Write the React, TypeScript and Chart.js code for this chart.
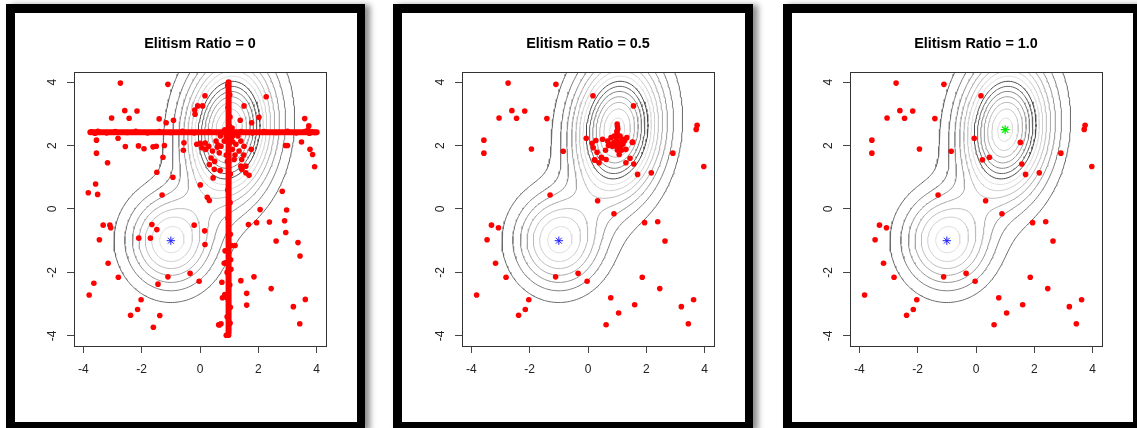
import { useEffect, useRef } from "react";
import { Chart, registerables } from "chart.js";

Chart.register(...registerables);

const FONT = "'Liberation Sans', Arial, Helvetica, sans-serif";

// ---------- data ----------
const PANEL_TITLES = ["Elitism Ratio = 0", "Elitism Ratio = 0.5", "Elitism Ratio = 1.0"];
const X_TICKS = [-4, -2, 0, 2, 4];
const Y_TICKS = [-4, -2, 0, 2, 4];
const AXIS_MIN = -4.32;
const AXIS_MAX = 4.32;

// two-peak landscape drawn as contours
const PEAK_X = [-1, 1];
const PEAK_Y = [-1, 2.5];
const PEAK_HEIGHT = [0.075, 0.145];
const PEAK_SD_X = [0.97, 0.97];
const PEAK_SD_Y = [0.97, 1.4];
const PEAK_RHO = [0, 0.1];
const CONTOUR_LEVELS = [0.01, 0.02, 0.03, 0.04, 0.05, 0.06, 0.07, 0.08, 0.09, 0.1, 0.11, 0.12, 0.13, 0.14];
const CONTOUR_GREYS = [
  "#6a6a6a", "#7e7e7e", "#939393", "#a8a8a8", "#bcbcbc", "#cecece", "#dedede",
  "#4a4a4a", "#646464", "#828282", "#9c9c9c", "#b5b5b5", "#cacaca", "#dcdcdc",
];
const GRID_N = 110;

const BLUE_STAR: [number, number][] = [[-1, -1]];
const GREEN_STAR: [number, number][] = [[1, 2.5]];

// panel 1 (ratio 0)
const P1_SCATTER: [number, number][] = [
  [-2.73, 3.97], [-1.1, 3.93], [0.17, 3.57], [2.27, 3.54], [-2.58, 3.1], [-2.16, 3.09], [-3.03, 2.87], [-2.43, 2.86],
  [-1.4, 2.84], [-1.16, 2.72], [-0.91, 2.8], [-0.17, 2.99], [0.09, 3.25], [-0.08, 3.25], [-0.18, 3.12], [1.51, 3.25],
  [1.77, 2.72], [2.02, 2.89], [1.38, 2.8], [3.59, 2.85], [3.73, 2.62], [-3.55, 2.17], [-2.81, 2.23], [-2.56, 1.97],
  [-2.11, 1.99], [-1.92, 1.9], [-1.61, 1.96], [-1.5, 1.98], [-1.22, 2.0], [-0.55, 2.09], [-0.57, 1.85], [-3.55, 1.76],
  [-3.17, 1.46], [-1.27, 1.63], [-1.48, 1.16], [-0.93, 1.0], [0.01, 0.76], [-3.58, 0.79], [-3.83, 0.51], [-3.51, 0.46],
  [-1.3, 0.44], [0.25, 0.37], [0.32, 0.27], [2.93, 2.0], [3.0, 2.0], [3.48, 2.11], [3.77, 1.88], [3.86, 1.72],
  [3.93, 1.33], [2.82, 0.56], [2.97, -0.03], [2.06, -0.02], [1.66, -0.49], [1.94, -0.43], [2.38, -0.41], [2.9, -0.37],
  [2.94, -0.74], [2.61, -1.01], [3.36, -1.06], [3.43, -1.48], [1.2, -1.15], [-3.32, -0.51], [-3.09, -0.51], [-3.06, -0.59],
  [-3.45, -0.97], [-2.1, -0.92], [-1.7, -0.92], [-1.65, -0.49], [-1.48, -0.65], [-0.2, -0.51], [0.16, -0.69], [0.17, -1.12],
  [-3.15, -1.71], [-2.8, -2.15], [-1.1, -2.14], [-0.34, -2.03], [-0.03, -2.28], [0.75, -2.31], [1.4, -2.26], [1.85, -2.14],
  [2.44, -2.51], [1.6, -2.66], [1.6, -3.03], [-1.44, -2.37], [-3.64, -2.34], [-3.8, -2.71], [-2.02, -2.86], [0.77, -2.8],
  [3.61, -2.85], [-2.14, -3.17], [3.2, -3.08], [-2.38, -3.35], [-1.38, -3.36], [-1.6, -3.73], [0.64, -3.65], [3.42, -3.62],
  [0.86, -1.32], [0.83, -1.71],
];
const P1_CLUSTER: [number, number][] = [
  [0.18, 2.08], [0.3, 1.98], [0.2, 1.88], [0.43, 1.83], [0.55, 2.14], [0.38, 1.61], [0.66, 1.77], [0.72, 1.98],
  [0.32, 1.4], [0.49, 1.25], [0.69, 1.21], [0.45, 0.98], [1.23, 2.04], [1.4, 2.14], [1.34, 1.83], [1.17, 1.56],
  [1.43, 1.56], [1.57, 1.35], [1.68, 1.06], [1.43, 1.25], [1.76, 1.88], [1.51, 1.98], [1.06, 2.2], [0.83, 2.14],
  [1.11, 1.88], [0.07, 1.93], [0.01, 2.07], [-0.11, 2.04], [1.4, 1.35], [1.57, 1.14], [0.6, 1.95], [0.9, 1.7],
  [1.3, 2.3], [0.7, 2.3], [1.2, 1.7], [0.5, 1.5], [0.62, 2.02], [1.5, 1.7],
  [0.85, 2.5], [1.1, 2.55], [0.9, 2.3], [1.12, 2.3], [1.0, 2.62], [0.88, 2.15], [1.12, 2.12], [1.0, 2.05],
];
const P1_VSTREAK_BUMPS: [number, number][] = [
  [0.95, 3.9], [1.02, 3.6], [0.96, 3.2], [1.03, 2.9], [0.94, 1.5], [1.04, 1.1], [0.95, 0.6], [1.03, 0.2],
  [0.96, -0.3], [1.04, -0.8], [0.94, -1.3], [1.05, -1.6], [0.93, -2.0], [1.02, -2.4], [0.92, -2.8], [1.04, -3.1],
  [0.93, -3.4], [1.03, -3.6], [0.9, -3.98], [0.98, -3.98], [0.66, -3.66], [0.72, -3.62], [0.85, -2.7], [0.88, -1.7],
  [1.08, -1.15], [1.06, -1.9],
];
const P1_HSTREAK_BUMPS: [number, number][] = [
  [-3.72, 2.43], [-3.6, 2.39], [-3.5, 2.45], [-3.2, 2.4], [-2.9, 2.44], [-2.5, 2.41], [-2.2, 2.45], [-1.8, 2.4],
  [-1.4, 2.44], [-1.0, 2.41], [-0.6, 2.45], [-0.2, 2.4], [0.3, 2.44], [0.6, 2.41], [1.4, 2.44], [1.8, 2.4],
  [2.2, 2.44], [2.6, 2.41], [3.0, 2.45], [3.3, 2.4], [3.6, 2.44], [3.75, 2.39], [3.85, 2.43], [3.95, 2.41], [3.7, 2.49],
];
const P1_VSTREAK: [number, number][] = [[0.98, -3.9], [0.98, 4.0]];
const P1_HSTREAK: [number, number][] = [[-3.76, 2.42], [4.0, 2.42]];

// panels 2 and 3 share the background population
const COMMON_SCATTER: [number, number][] = [
  [-2.74, 3.97], [-1.1, 3.93], [0.17, 3.57], [-2.61, 3.1], [-2.17, 3.09], [-3.05, 2.87], [-2.45, 2.86], [-1.41, 2.85],
  [3.74, 2.64], [3.71, 2.51], [-3.57, 2.17], [-0.06, 2.23], [1.52, 2.1], [-1.94, 1.89], [-0.85, 1.82], [-3.57, 1.76],
  [2.91, 1.76], [0.22, 1.55], [0.46, 1.63], [1.57, 1.42], [3.97, 1.34], [1.7, 1.09], [2.17, 1.14], [-1.3, 0.44],
  [0.33, 0.26], [0.89, -0.15], [-3.31, -0.51], [-3.07, -0.59], [1.94, -0.43], [2.39, -0.4], [-3.46, -0.97], [2.64, -1.01],
  [-3.17, -1.71], [-2.81, -2.15], [-1.11, -2.14], [-0.34, -2.03], [-0.03, -2.28], [1.86, -2.15], [2.46, -2.51], [-3.82, -2.71],
  [-2.03, -2.86], [0.78, -2.8], [3.62, -2.86], [1.6, -3.02], [-2.15, -3.17], [3.2, -3.08], [1.05, -3.28], [-2.38, -3.35],
  [3.44, -3.62], [0.62, -3.65],
];
const P2_CLUSTER: [number, number][] = [
  [1.0, 2.68], [1.01, 2.6], [1.02, 2.52], [0.99, 2.45], [1.0, 2.38], [1.02, 2.3], [0.98, 2.22], [1.0, 2.15],
  [1.03, 2.08], [0.97, 2.0], [1.0, 1.92], [1.01, 1.85], [0.79, 2.25], [0.67, 2.14], [0.5, 2.2], [0.27, 2.16],
  [0.14, 2.07], [0.18, 1.93], [0.31, 1.79], [0.47, 1.61], [0.24, 1.54], [0.38, 1.46], [0.62, 1.56], [0.84, 1.98],
  [0.9, 2.1], [1.13, 1.98], [1.19, 2.2], [1.33, 2.25], [1.53, 2.11], [1.3, 1.88], [1.07, 1.72], [1.44, 1.6],
  [1.3, 1.46], [1.1, 2.1], [1.2, 2.05], [0.8, 2.05], [0.9, 2.3], [1.1, 2.3], [1.25, 2.15], [0.7, 2.0],
  [0.6, 1.85], [1.15, 1.85], [1.56, 3.25],
];

// ---------- helpers ----------
type Pt = { x: number; y: number | null };
const toPts = (arr: [number, number][]): Pt[] => arr.map(([x, y]) => ({ x, y }));

function landscape(x: number, y: number): number {
  let s = 0;
  for (let k = 0; k < PEAK_X.length; k++) {
    const u = (x - PEAK_X[k]) / PEAK_SD_X[k];
    const v = (y - PEAK_Y[k]) / PEAK_SD_Y[k];
    const r = PEAK_RHO[k];
    const q = (u * u - 2 * r * u * v + v * v) / (1 - r * r);
    s += PEAK_HEIGHT[k] * Math.exp(-0.5 * q);
  }
  return s;
}

let GRID: number[][] | null = null;
function getGrid(): number[][] {
  if (GRID) return GRID;
  const step = (AXIS_MAX - AXIS_MIN) / GRID_N;
  const g: number[][] = [];
  for (let i = 0; i <= GRID_N; i++) {
    g[i] = [];
    for (let j = 0; j <= GRID_N; j++) g[i][j] = landscape(AXIS_MIN + i * step, AXIS_MIN + j * step);
  }
  GRID = g;
  return g;
}

function traceLevel(level: number): Pt[] {
  const v = getGrid();
  const step = (AXIS_MAX - AXIS_MIN) / GRID_N;
  const gx = (i: number) => AXIS_MIN + i * step;
  const pos = new Map<string, { x: number; y: number }>();
  const adj = new Map<string, string[]>();
  const ep = (key: string, x0: number, y0: number, v0: number, x1: number, y1: number, v1: number) => {
    if (!pos.has(key)) {
      const t = (level - v0) / (v1 - v0);
      pos.set(key, { x: x0 + t * (x1 - x0), y: y0 + t * (y1 - y0) });
    }
    return key;
  };
  const link = (a: string, b: string) => {
    if (!adj.has(a)) adj.set(a, []);
    if (!adj.has(b)) adj.set(b, []);
    adj.get(a)!.push(b);
    adj.get(b)!.push(a);
  };
  for (let i = 0; i < GRID_N; i++) {
    for (let j = 0; j < GRID_N; j++) {
      const a = v[i][j], b = v[i + 1][j], c = v[i + 1][j + 1], d = v[i][j + 1];
      const code = (a > level ? 1 : 0) | (b > level ? 2 : 0) | (c > level ? 4 : 0) | (d > level ? 8 : 0);
      if (code === 0 || code === 15) continue;
      const x0 = gx(i), x1 = gx(i + 1), y0 = gx(j), y1 = gx(j + 1);
      const B = () => ep(`h${i},${j}`, x0, y0, a, x1, y0, b);
      const R = () => ep(`v${i + 1},${j}`, x1, y0, b, x1, y1, c);
      const T = () => ep(`h${i},${j + 1}`, x0, y1, d, x1, y1, c);
      const L = () => ep(`v${i},${j}`, x0, y0, a, x0, y1, d);
      const ctr = (a + b + c + d) / 4;
      switch (code) {
        case 1: case 14: link(L(), B()); break;
        case 2: case 13: link(B(), R()); break;
        case 3: case 12: link(L(), R()); break;
        case 4: case 11: link(R(), T()); break;
        case 6: case 9: link(B(), T()); break;
        case 7: case 8: link(L(), T()); break;
        case 5:
          if (ctr > level) { link(B(), R()); link(T(), L()); } else { link(L(), B()); link(R(), T()); }
          break;
        case 10:
          if (ctr > level) { link(L(), B()); link(R(), T()); } else { link(B(), R()); link(T(), L()); }
          break;
      }
    }
  }
  const visited = new Set<string>();
  const out: Pt[] = [];
  const walk = (start: string) => {
    let prev: string | null = null;
    let cur: string | undefined = start;
    let last = start;
    while (cur !== undefined && !visited.has(cur)) {
      visited.add(cur);
      const p = pos.get(cur)!;
      out.push({ x: p.x, y: p.y });
      last = cur;
      const nb: string[] = adj.get(cur)!;
      const nxt = nb.find((k) => k !== prev && !visited.has(k));
      prev = cur;
      cur = nxt;
    }
    if (last !== start && adj.get(last)!.includes(start)) {
      const p = pos.get(start)!;
      out.push({ x: p.x, y: p.y });
    }
    out.push({ x: 0, y: null });
  };
  for (const [k, nb] of adj) if (nb.length === 1 && !visited.has(k)) walk(k);
  for (const k of adj.keys()) if (!visited.has(k)) walk(k);
  return out;
}

let CONTOURS: Pt[][] | null = null;
function getContours(): Pt[][] {
  if (!CONTOURS) CONTOURS = CONTOUR_LEVELS.map((l) => traceLevel(l));
  return CONTOURS;
}

const boxPlugin = {
  id: "rbox",
  afterDatasetsDraw(chart: any) {
    const { ctx, chartArea } = chart;
    const { left, top, right, bottom } = chartArea;
    ctx.save();
    ctx.strokeStyle = "#333333";
    ctx.lineWidth = 1;
    ctx.strokeRect(Math.round(left) + 0.5, Math.round(top) + 0.5, Math.round(right - left), Math.round(bottom - top));
    ctx.restore();
  },
};

type PanelSpec = {
  title: string;
  points: [number, number][];
  streaks: [number, number][][];
  green: boolean;
};

const PANELS: PanelSpec[] = [
  { title: PANEL_TITLES[0], points: [...P1_SCATTER, ...P1_CLUSTER, ...P1_VSTREAK_BUMPS, ...P1_HSTREAK_BUMPS], streaks: [P1_VSTREAK, P1_HSTREAK], green: false },
  { title: PANEL_TITLES[1], points: [...COMMON_SCATTER, ...P2_CLUSTER], streaks: [], green: false },
  { title: PANEL_TITLES[2], points: [...COMMON_SCATTER], streaks: [], green: true },
];

const CANVAS_W = 370;
const CANVAS_H = 409;

function Panel({ spec }: { spec: PanelSpec }) {
  const ref = useRef<HTMLCanvasElement | null>(null);
  useEffect(() => {
    if (!ref.current) return;
    const contours = getContours();
    const datasets: any[] = [];
    datasets.push({
      data: toPts(BLUE_STAR),
      pointStyle: "star",
      pointRadius: 4.2,
      pointBorderColor: "#1f1fff",
      pointBackgroundColor: "rgba(0,0,0,0)",
      pointBorderWidth: 1,
      showLine: false,
      order: 0,
    });
    if (spec.green) {
      datasets.push({
        data: toPts(GREEN_STAR),
        pointStyle: "star",
        pointRadius: 4.5,
        pointBorderColor: "#00ee00",
        pointBackgroundColor: "rgba(0,0,0,0)",
        pointBorderWidth: 1.2,
        showLine: false,
        order: 0,
      });
    }
    datasets.push({
      data: toPts(spec.points),
      pointStyle: "circle",
      pointRadius: 2.8,
      pointBackgroundColor: "#ff0000",
      pointBorderWidth: 0,
      showLine: false,
      order: 1,
    });
    spec.streaks.forEach((s) => {
      datasets.push({
        data: toPts(s),
        showLine: true,
        borderColor: "#ff0000",
        borderWidth: 6,
        borderCapStyle: "round",
        pointRadius: 0,
        order: 1,
      });
    });
    contours.forEach((c, k) => {
      datasets.push({
        data: c,
        showLine: true,
        spanGaps: false,
        borderColor: CONTOUR_GREYS[k],
        borderWidth: 1,
        pointRadius: 0,
        order: 2,
      });
    });
    const tickFont = { family: FONT, size: 12 };
    const chart = new Chart(ref.current, {
      type: "scatter",
      data: { datasets },
      options: {
        animation: false,
        responsive: false,
        maintainAspectRatio: false,
        events: [],
        layout: { padding: 0 },
        plugins: {
          legend: { display: false },
          tooltip: { enabled: false },
          title: {
            display: true,
            text: spec.title,
            color: "#000000",
            font: { family: FONT, size: 14.4, weight: "bold" },
            padding: { top: 22, bottom: 19.7 },
          },
        },
        scales: {
          x: {
            type: "linear",
            min: AXIS_MIN,
            max: AXIS_MAX,
            afterBuildTicks: (s: any) => { s.ticks = X_TICKS.map((v) => ({ value: v })); },
            afterFit: (s: any) => { s.height = 76; },
            grid: { drawOnChartArea: false, drawTicks: true, tickLength: 7, color: "#444444", lineWidth: 1 },
            border: { display: false },
            ticks: { padding: 9.5, color: "#222222", font: tickFont, autoSkip: false, minRotation: 0, maxRotation: 0 },
          },
          y: {
            type: "linear",
            position: "left",
            min: AXIS_MIN,
            max: AXIS_MAX,
            afterBuildTicks: (s: any) => { s.ticks = Y_TICKS.map((v) => ({ value: v })); },
            afterFit: (s: any) => { s.width = 59; },
            grid: { drawOnChartArea: false, drawTicks: true, tickLength: 7, color: "#444444", lineWidth: 1 },
            border: { display: false },
            ticks: { padding: 8.5, color: "#222222", font: tickFont, autoSkip: false, minRotation: 90, maxRotation: 90, crossAlign: "center" },
          },
          yRight: {
            type: "linear",
            position: "right",
            min: AXIS_MIN,
            max: AXIS_MAX,
            afterFit: (s: any) => { s.width = 59; },
            grid: { display: false },
            border: { display: false },
            ticks: { display: false },
          },
        },
      } as any,
      plugins: [boxPlugin],
    });
    return () => chart.destroy();
  }, [spec]);
  return <canvas ref={ref} width={CANVAS_W} height={CANVAS_H} style={{ width: CANVAS_W, height: CANVAS_H, display: "block" }} />;
}

const FRAME_LEFT = [6, 393, 783];
const FRAME_WIDTH = [359, 360, 358];
const CANVAS_LEFT = [15, 403, 791];

export default function App() {
  return (
    <div style={{ position: "absolute", left: 0, top: 0, width: 1137, height: 428, overflow: "hidden", background: "#ffffff" }}>
      {FRAME_LEFT.map((l, i) => (
        <div
          key={"f" + i}
          style={{
            position: "absolute",
            left: l,
            top: 4,
            width: FRAME_WIDTH[i],
            height: 426,
            boxSizing: "border-box",
            borderStyle: "solid",
            borderColor: "#000000",
            borderWidth: "9px 8px 8px 9px",
            background: "#ffffff",
            boxShadow: "5px 1px 6px rgba(0,0,0,0.45)",
          }}
        />
      ))}
      {PANELS.map((p, i) => (
        <div key={"c" + i} style={{ position: "absolute", left: CANVAS_LEFT[i], top: 13 }}>
          <Panel spec={p} />
        </div>
      ))}
    </div>
  );
}
